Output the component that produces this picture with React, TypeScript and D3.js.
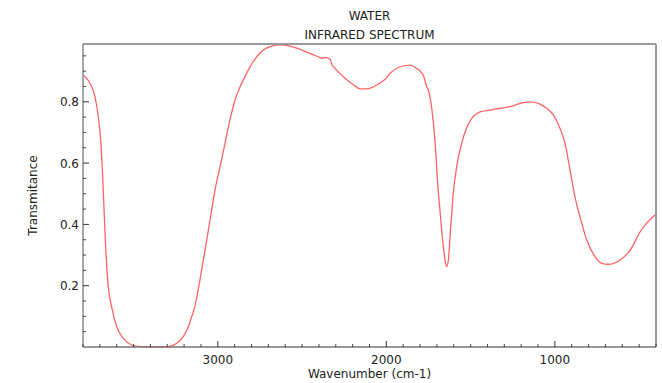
import React from "react";
import * as d3 from "d3";

const wavenumbers = [
  3798, 3758, 3729, 3709, 3695, 3685, 3675, 3664, 3650, 3630, 3600, 3561, 3511, 3472, 3402, 3303,
  3244, 3205, 3175, 3155, 3135, 3106, 3076, 3046, 3017, 2987, 2957, 2928, 2898, 2868, 2839, 2809,
  2769, 2730, 2680, 2631, 2572, 2512, 2453, 2404, 2384, 2364, 2334, 2324, 2305, 2255, 2206, 2186,
  2156, 2107, 2057, 2018, 2008, 1978, 1929, 1860, 1820, 1781, 1761, 1751, 1731, 1711, 1697, 1682,
  1666, 1652, 1642, 1632, 1618, 1603, 1583, 1553, 1523, 1493, 1444, 1385, 1326, 1247, 1207, 1148,
  1098, 1049, 1009, 970, 940, 910, 881, 851, 811, 762, 722, 683, 613, 553, 494, 455, 406,
];
const transmittance = [
  0.887, 0.86, 0.817, 0.75, 0.675, 0.577, 0.447, 0.307, 0.197, 0.131, 0.066, 0.028, 0.0065, 0.002, 0.0, 0.0,
  0.012, 0.034, 0.066, 0.099, 0.135, 0.219, 0.316, 0.414, 0.512, 0.588, 0.665, 0.741, 0.806, 0.849, 0.882, 0.914,
  0.947, 0.969, 0.982, 0.986, 0.982, 0.971, 0.958, 0.947, 0.942, 0.945, 0.939, 0.923, 0.909, 0.882, 0.86, 0.852,
  0.842, 0.843, 0.855, 0.869, 0.873, 0.893, 0.912, 0.92, 0.909, 0.887, 0.849, 0.838, 0.78, 0.67, 0.545, 0.447,
  0.349, 0.284, 0.262, 0.284, 0.392, 0.501, 0.588, 0.665, 0.716, 0.746, 0.767, 0.773, 0.779, 0.787, 0.795, 0.8,
  0.795, 0.779, 0.757, 0.714, 0.665, 0.577, 0.49, 0.425, 0.349, 0.295, 0.273, 0.27, 0.284, 0.316, 0.376, 0.404, 0.431,
];
const xMajorTicks = [3000, 2000, 1000];
const yMajorTicks = [0.2, 0.4, 0.6, 0.8];
const titleLines = ["WATER", "INFRARED SPECTRUM"];
const xLabel = "Wavenumber (cm-1)";
const yLabel = "Transmitance";

const W = 662;
const H = 383;
const L = 83;
const R = 656;
const T = 44;
const B = 347;
const FONT = "DejaVu Sans, sans-serif";

export default function App() {
  const x = d3.scaleLinear().domain([3800, 400]).range([L, R]);
  const y = d3.scaleLinear().domain([0, 0.9886]).range([B, T]);
  const data = wavenumbers.map((w, i) => [w, transmittance[i]] as [number, number]);
  const line = d3
    .line<[number, number]>()
    .x((d) => x(d[0]))
    .y((d) => y(d[1]))
    .curve(d3.curveMonotoneX);

  const xMinor = d3.range(3800, 399, -100).filter((v) => !xMajorTicks.includes(v));
  const yMinor = d3.range(0.05, 0.99, 0.05).filter((v) => !yMajorTicks.some((m) => Math.abs(m - v) < 1e-6));

  return (
    <svg
      width={W}
      height={H}
      style={{ position: "absolute", left: 0, top: 0, background: "#fff" }}
      fontFamily={FONT}
    >
      <rect x={0} y={0} width={W} height={H} fill="#fff" />
      {titleLines.map((t, i) => (
        <text key={t} x={(L + R) / 2} y={20 + i * 19} textAnchor="middle" fontSize={12} fill="#222">
          {t}
        </text>
      ))}
      <path d={line(data) || ""} fill="none" stroke="#ff6464" strokeWidth={1.3} />
      <line x1={L} x2={R} y1={T} y2={T} stroke="#9a9a9a" strokeWidth={2} />
      <line x1={R} x2={R} y1={T} y2={B} stroke="#9a9a9a" strokeWidth={2} />
      <line x1={L} x2={L} y1={T} y2={B} stroke="#888" strokeWidth={1.5} />
      <line x1={L} x2={R} y1={B} y2={B} stroke="#777" strokeWidth={1.5} />
      {xMinor.map((v) => (
        <line key={"xm" + v} x1={x(v)} x2={x(v)} y1={B} y2={B - 3} stroke="#444" strokeWidth={1} />
      ))}
      {xMajorTicks.map((v) => (
        <g key={"xM" + v}>
          <line x1={x(v)} x2={x(v)} y1={B} y2={B - 6} stroke="#333" strokeWidth={1} />
          <text x={x(v)} y={364} textAnchor="middle" fontSize={12} fill="#222">
            {v}
          </text>
        </g>
      ))}
      {yMinor.map((v) => (
        <line key={"ym" + v} x1={L} x2={L + 3} y1={y(v)} y2={y(v)} stroke="#444" strokeWidth={1} />
      ))}
      {yMajorTicks.map((v) => (
        <g key={"yM" + v}>
          <line x1={L} x2={L + 6} y1={y(v)} y2={y(v)} stroke="#333" strokeWidth={1} />
          <text x={79} y={y(v) + 4.5} textAnchor="end" fontSize={12} fill="#222">
            {v.toFixed(1)}
          </text>
        </g>
      ))}
      <text x={(L + R) / 2} y={378} textAnchor="middle" fontSize={12} fill="#222">
        {xLabel}
      </text>
      <text
        transform={`translate(37, ${(T + B) / 2}) rotate(-90)`}
        textAnchor="middle"
        fontSize={12}
        fill="#222"
      >
        {yLabel}
      </text>
    </svg>
  );
}
